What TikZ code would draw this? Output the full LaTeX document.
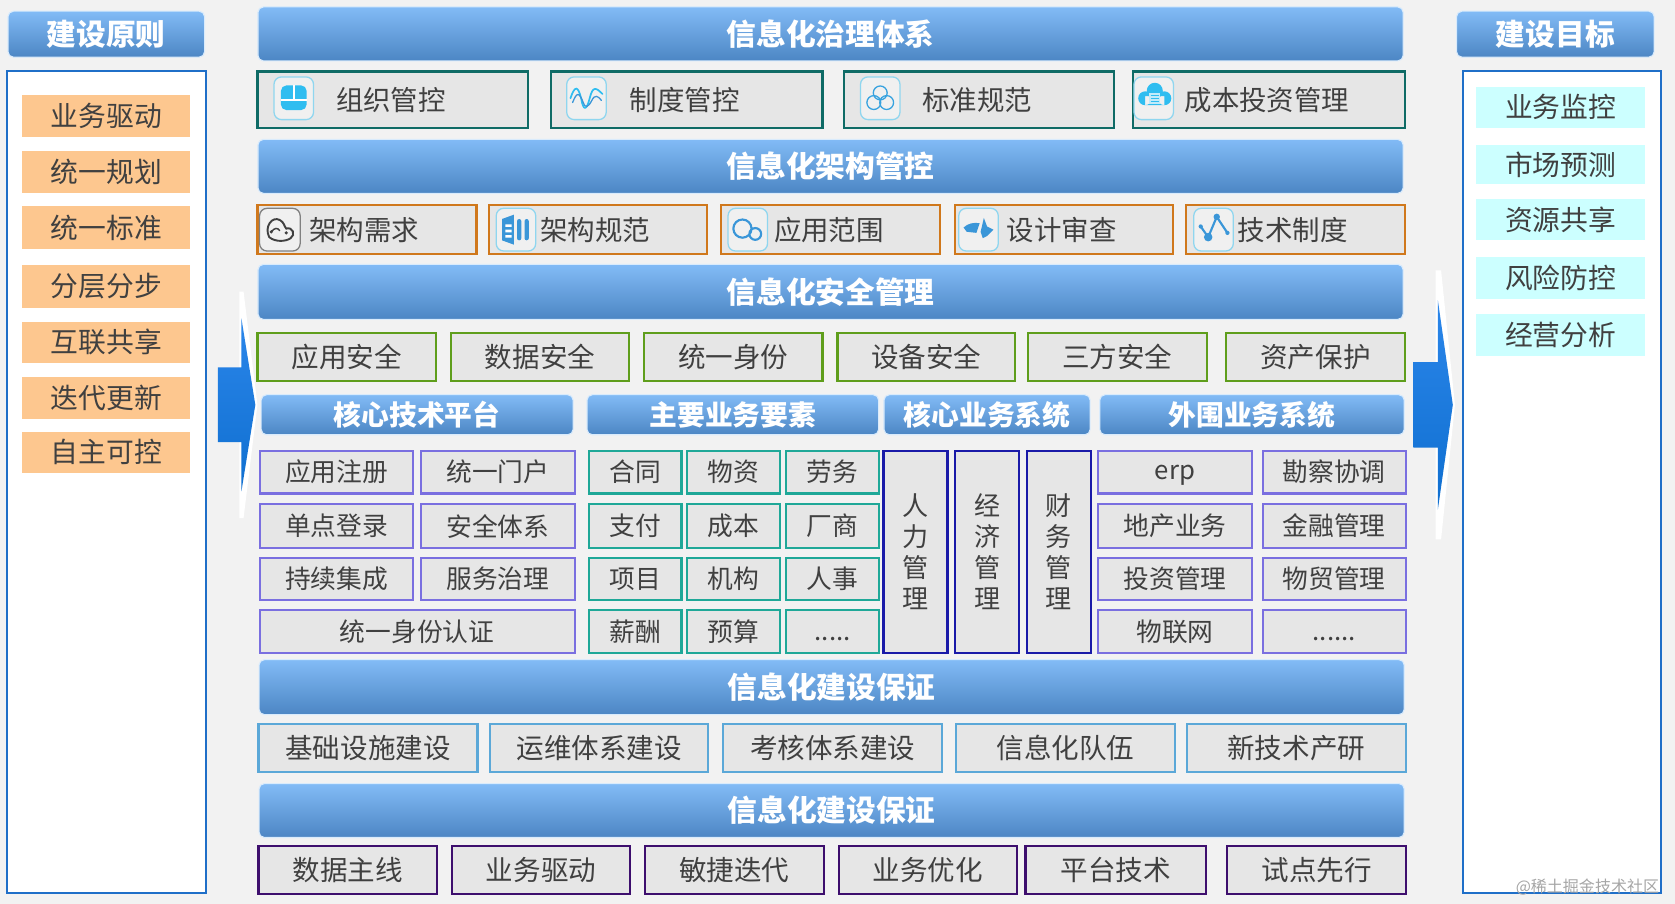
\documentclass[tikz,border=0pt]{standalone}
\usepackage{fontspec}
\setmainfont{Noto Sans CJK SC}
\definecolor{pagebg}{HTML}{F2F2F2}
\definecolor{ink}{HTML}{404040}
\definecolor{bartop}{HTML}{82BBF6}
\definecolor{barbot}{HTML}{4C86C4}
\definecolor{boxgrey}{HTML}{E6E6E6}
\definecolor{cteal}{HTML}{0F6B66}
\definecolor{corange}{HTML}{D0781C}
\definecolor{cgreen}{HTML}{5F9E1C}
\definecolor{cviolet}{HTML}{7A6FE0}
\definecolor{cgreenb}{HTML}{1FA898}
\definecolor{cnavy}{HTML}{1A1AA8}
\definecolor{csky}{HTML}{5BA8D8}
\definecolor{cplum}{HTML}{3E0F6E}
\definecolor{cpanel}{HTML}{1F6FC8}
\definecolor{cpeach}{HTML}{FDC78F}
\definecolor{ccyan}{HTML}{CCFFFF}
\definecolor{icoline}{HTML}{8FD6EF}
\definecolor{icofill}{HTML}{2FBDF0}
\definecolor{icoblue}{HTML}{3A96D8}
\definecolor{arrtop}{HTML}{2B86EA}
\definecolor{arrbot}{HTML}{0F6FD0}
\tikzset{
  x=0.5pt,y=-0.5pt,
  base/.style={inner sep=0pt,outer sep=0pt,text=ink,align=center},
  bar/.style={base,rounded corners=2.5pt,top color=bartop,bottom color=barbot,draw=white!70!bartop,line width=0.5pt,text=white,font=\fontsize{13.9}{16}\selectfont\bfseries},
  subbar/.style={bar,font=\fontsize{13}{15}\selectfont\bfseries},
  plain/.style={base,fill=boxgrey,line width=1pt,font=\fontsize{12.9}{15}\selectfont},
  small/.style={plain,font=\fontsize{12.05}{14}\selectfont},
  rteal/.style={plain,draw=cteal},
  rorange/.style={plain,draw=corange},
  rgreen/.style={plain,draw=cgreen},
  rsky/.style={plain,draw=csky},
  rplum/.style={plain,draw=cplum},
  rviolet/.style={small,draw=cviolet},
  rteals/.style={small,draw=cgreenb},
  rnavy/.style={small,draw=cnavy,fill=boxgrey,font=\fontsize{12.2}{14.5}\selectfont},
  panel/.style={base,fill=white,draw=cpanel,line width=1pt},
  peach/.style={base,fill=cpeach,font=\fontsize{13}{15}\selectfont},
  cyanbox/.style={base,fill=ccyan,font=\fontsize{13}{15}\selectfont},
  lbl/.style={inner sep=0pt,outer sep=0pt,text=ink,font=\fontsize{12.85}{15}\selectfont},
  icoframe/.style={draw=icoline,line width=0.6pt,rounded corners=3.5pt,fill=boxgrey!60!white},
  halo/.style={fill=white},
}
% name, x0,y0,x1,y1, style, text
\newcommand\bx[7]{%
  \pgfmathsetmacro\mycx{(#2+#4)/2}\pgfmathsetmacro\mycy{(#3+#5)/2}%
  \pgfmathsetmacro\myw{(#4-#2)*0.5}\pgfmathsetmacro\myh{(#5-#3)*0.5}%
  \node[#6,minimum width=\myw pt,minimum height=\myh pt] (#1) at (\mycx,\mycy) {#7};}
\newcommand\icoframe[2]{\draw[icoframe] (#1-18.5,#2-20) rectangle (#1+18.5,#2+20);}
\newcommand\lowtext[1]{\vphantom{理}#1}
\begin{document}
\begin{tikzpicture}
\useasboundingbox (0,0) rectangle (1568,846.25);
\fill[pagebg] (0,0) rectangle (1568,846.25);
% side panels
\bx{pl}{6.5}{66.5}{193}{836}{panel}{}
\bx{pr}{1369.5}{66.5}{1555}{836}{panel}{}
\bx{hl}{7.5}{10.5}{191.5}{53.5}{bar}{建设原则}
\bx{hr}{1363.5}{10.5}{1548.5}{53.5}{bar}{建设目标}
% left items
\bx{l1}{21}{89}{178}{128}{peach}{业务驱动}
\bx{l2}{21}{141}{178}{181}{peach}{统一规划}
\bx{l3}{21}{193}{178}{233}{peach}{统一标准}
\bx{l4}{21}{248}{178}{288}{peach}{分层分步}
\bx{l5}{21}{301}{178}{340}{peach}{互联共享}
\bx{l6}{21}{353}{178}{392}{peach}{迭代更新}
\bx{l7}{21}{404}{178}{443}{peach}{自主可控}
% right items
\bx{r1}{1382}{81}{1540}{120}{cyanbox}{业务监控}
\bx{r2}{1382}{136}{1540}{172}{cyanbox}{市场预测}
\bx{r3}{1382}{186}{1540}{225}{cyanbox}{资源共享}
\bx{r4}{1382}{241}{1540}{280}{cyanbox}{风险防控}
\bx{r5}{1382}{294}{1540}{333}{cyanbox}{经营分析}
% arrows
\fill[halo] (224,273) -- (228,273) -- (241,379) -- (228,485) -- (224,485) -- cycle;
\shade[top color=arrtop,bottom color=arrbot] (204,344) -- (226,344) -- (226,298) -- (239,379) -- (226,460) -- (226,414) -- (204,414) -- cycle;
\fill[halo] (1344,253) -- (1349,253) -- (1362,379) -- (1349,505) -- (1344,505) -- cycle;
\shade[top color=arrtop,bottom color=arrbot] (1323,339) -- (1346,339) -- (1346,281) -- (1360,379) -- (1346,477) -- (1346,419) -- (1323,419) -- cycle;
% title bars
\bx{b1}{241.5}{6.5}{1313.5}{57}{bar}{信息化治理体系}
\bx{b2}{241.5}{130.5}{1313.5}{181}{bar}{信息化架构管控}
\bx{b3}{241.5}{247.5}{1313.5}{299}{bar}{信息化安全管理}
\bx{b4}{242.5}{617.5}{1314.5}{669}{bar}{信息化建设保证}
\bx{b5}{242.5}{733.5}{1314.5}{784}{bar}{信息化建设保证}
% row 1
\bx{a1}{241}{67}{494}{120}{rteal}{}
\bx{a2}{516}{67}{770}{120}{rteal}{}
\bx{a3}{790}{67}{1043}{120}{rteal}{}
\bx{a4}{1061}{67}{1315}{120}{rteal}{}
\node[lbl] (a1t) at (366,93.5) {组织管控};
\node[lbl] (a2t) at (641,93.5) {制度管控};
\node[lbl] (a3t) at (915,93.5) {标准规范};
\node[lbl] (a4t) at (1186,93.5) {成本投资管理};
% row 2
\bx{c1}{241}{192}{446}{238}{rorange}{}
\bx{c2}{458}{192}{662}{238}{rorange}{}
\bx{c3}{675}{192}{880}{238}{rorange}{}
\bx{c4}{894}{192}{1098}{238}{rorange}{}
\bx{c5}{1110}{192}{1315}{238}{rorange}{}
\node[lbl] (c1t) at (341,215) {架构需求};
\node[lbl] (c2t) at (557,215) {架构规范};
\node[lbl] (c3t) at (776,215) {应用范围};
\node[lbl] (c4t) at (994,215) {设计审查};
\node[lbl] (c5t) at (1210,215) {技术制度};
% icons row 1
\icoframe{275}{92}
\fill[icofill,rounded corners=2.5pt] (263,80) rectangle (287,103);
\draw[white,line width=1pt] (263,94) -- (287,94) (275,80) -- (275,94);
\icoframe{549}{92}
\draw[icofill,line width=0.8pt,line cap=round] (534,92) .. controls (538,80) and (541,80) .. (544,92) .. controls (546,104) and (549,104) .. (552,92) .. controls (555,80) and (558,82) .. (564,88);
\draw[icoblue,line width=0.6pt,line cap=round] (536,96) .. controls (540,86) and (542,86) .. (546,96) .. controls (548,102) and (551,100) .. (554,94) .. controls (557,88) and (560,90) .. (563,94);
\icoframe{824}{92}
\draw[icoblue!70!icofill,line width=0.6pt] (824,87) circle [radius=6.5] (818,96) circle [radius=6.5] (830,96) circle [radius=6.5];
\icoframe{1080}{92}
\fill[icofill] (1081,85) circle [radius=7.5] (1072,92) circle [radius=6.5] (1090,92) circle [radius=6.5] (1072,90) rectangle (1090,98.5);
\fill[white!70!icofill] (1076,87) rectangle (1086,97);
\draw[icofill,line width=0.4pt] (1077,89.5) -- (1085,89.5) (1077,92) -- (1085,92) (1077,94.5) -- (1085,94.5);
% icons row 2
\draw[icoframe,draw=gray] (243,195) rectangle (281,235);
\draw[ink,line width=0.9pt,line cap=round] (252,222) .. controls (247,212) and (255,202) .. (262,206) .. controls (266,208) and (266,212) .. (268,214) .. controls (274,212) and (277,220) .. (272,223) .. controls (268,226) and (258,227) .. (252,222);
\draw[ink,line width=0.7pt] (254,217) .. controls (257,213) and (260,213) .. (262,216);
\fill[ink] (254,217) circle [radius=1.7] (268,218) circle [radius=1.7];
\icoframe{483}{215}
\fill[icoblue] (470,205) -- (481,201) -- (481,229) -- (470,225) -- cycle;
\fill[white] (473,210) rectangle (479,212.5) (473,215) rectangle (479,217.5) (473,220) rectangle (479,222.5);
\fill[icoblue,rounded corners=1pt] (484,205) rectangle (488,225) (491,205) rectangle (495,225);
\icoframe{700}{215}
\draw[icoblue,line width=1pt] (695,214) circle [radius=8.5] (707,219) circle [radius=5.5];
\icoframe{916}{215}
\fill[icoblue] (902,213) .. controls (906,209) and (912,208) .. (917,209) -- (914,218) -- (905,217) -- cycle;
\fill[icoblue] (921,204) -- (924,212) -- (930,215) -- (924,221) -- (920,223) -- (918,217) -- cycle;
\icoframe{1136}{215}
\draw[icoblue,line width=1pt] (1124,212) -- (1131,222) -- (1139,203) -- (1149,218);
\fill[icoblue] (1124,212) circle [radius=2] (1131,222) circle [radius=4] (1139,203) circle [radius=3] (1149,218) circle [radius=2];
% row 3
\bx{d1}{241}{312}{408}{357}{rgreen}{应用安全}
\bx{d2}{422}{312}{589}{357}{rgreen}{数据安全}
\bx{d3}{603}{312}{770}{357}{rgreen}{统一身份}
\bx{d4}{784}{312}{950}{357}{rgreen}{设备安全}
\bx{d5}{962}{312}{1130}{357}{rgreen}{三方安全}
\bx{d6}{1148}{312}{1315}{357}{rgreen}{资产保护}
% sub headers
\bx{s1}{244.5}{369.5}{536.5}{407}{subbar}{核心技术平台}
\bx{s2}{549.5}{369.5}{822.5}{407}{subbar}{主要业务要素}
\bx{s3}{827.5}{369.5}{1020.5}{407}{subbar}{核心业务系统}
\bx{s4}{1029.5}{369.5}{1314.5}{407}{subbar}{外围业务系统}
% platform grid
\bx{p1}{243}{422}{387}{462}{rviolet}{应用注册}
\bx{p2}{394}{422}{538}{462}{rviolet}{统一门户}
\bx{p3}{243}{472}{387}{513}{rviolet}{单点登录}
\bx{p4}{394}{472}{538}{513}{rviolet}{安全体系}
\bx{p5}{243}{522}{387}{562}{rviolet}{持续集成}
\bx{p6}{394}{522}{538}{562}{rviolet}{服务治理}
\bx{p7}{243}{571}{538}{611}{rviolet}{统一身份认证}
% elements grid
\bx{e1}{551}{422}{638}{462}{rteals}{合同}
\bx{e2}{643}{422}{730}{462}{rteals}{物资}
\bx{e3}{736}{422}{823}{462}{rteals}{劳务}
\bx{e4}{551}{472}{638}{513}{rteals}{支付}
\bx{e5}{643}{472}{730}{513}{rteals}{成本}
\bx{e6}{736}{472}{823}{513}{rteals}{厂商}
\bx{e7}{551}{522}{638}{562}{rteals}{项目}
\bx{e8}{643}{522}{730}{562}{rteals}{机构}
\bx{e9}{736}{522}{823}{562}{rteals}{人事}
\bx{e10}{551}{571}{638}{611}{rteals}{薪酬}
\bx{e11}{643}{571}{730}{611}{rteals}{预算}
\bx{e12}{736}{571}{823}{611}{rteals}{\lowtext{.....}}
% core systems
\bx{k1}{827}{422}{887}{611}{rnavy}{人\\力\\管\\理}
\bx{k2}{894}{422}{954}{611}{rnavy}{经\\济\\管\\理}
\bx{k3}{961}{422}{1021}{611}{rnavy}{财\\务\\管\\理}
% outer systems
\bx{o1}{1028}{422}{1172}{462}{rviolet}{\lowtext{erp}}
\bx{o2}{1182}{422}{1316}{462}{rviolet}{勘察协调}
\bx{o3}{1028}{472}{1172}{513}{rviolet}{地产业务}
\bx{o4}{1182}{472}{1316}{513}{rviolet}{金融管理}
\bx{o5}{1028}{522}{1172}{562}{rviolet}{投资管理}
\bx{o6}{1182}{522}{1316}{562}{rviolet}{物贸管理}
\bx{o7}{1028}{571}{1172}{611}{rviolet}{物联网}
\bx{o8}{1182}{571}{1316}{611}{rviolet}{\lowtext{......}}
% row 4
\bx{f1}{242}{678}{447}{723}{rsky}{基础设施建设}
\bx{f2}{459}{678}{663}{723}{rsky}{运维体系建设}
\bx{f3}{677}{678}{882}{723}{rsky}{考核体系建设}
\bx{f4}{895}{678}{1100}{723}{rsky}{信息化队伍}
\bx{f5}{1111}{678}{1316}{723}{rsky}{新技术产研}
% row 5
\bx{g1}{242}{792}{409}{837}{rplum}{数据主线}
\bx{g2}{423}{792}{590}{837}{rplum}{业务驱动}
\bx{g3}{604}{792}{771}{837}{rplum}{敏捷迭代}
\bx{g4}{785}{792}{952}{837}{rplum}{业务优化}
\bx{g5}{960}{792}{1129}{837}{rplum}{平台技术}
\bx{g6}{1149}{792}{1316}{837}{rplum}{试点先行}
% watermark
\node[inner sep=0pt,text=gray!70,font=\fontsize{7.5}{9}\selectfont] (wm) at (1486,830) {@稀土掘金技术社区};
\end{tikzpicture}
\end{document}
